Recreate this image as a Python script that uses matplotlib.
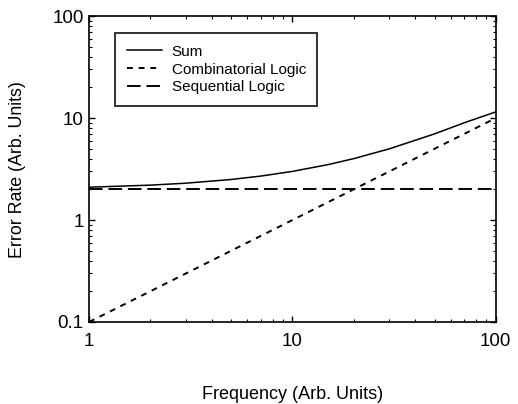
import matplotlib
matplotlib.use('Agg')
import matplotlib.pyplot as plt
from matplotlib.ticker import LogLocator, NullFormatter, FixedLocator, FixedFormatter

# data
freq_sum = [1, 2, 3, 5, 7, 10, 15, 20, 30, 50, 70, 100]
err_sum = [2.1, 2.2, 2.3, 2.5, 2.7, 3.0, 3.5, 4.0, 5.0, 7.0, 9.0, 11.5]
freq_comb = [1, 100]
err_comb = [0.1, 10]
freq_seq = [1, 100]
err_seq = [2, 2]

xticks = [1, 10, 100]
xticklabels = ['1', '10', '100']
yticks = [0.1, 1, 10, 100]
yticklabels = ['0.1', '1', '10', '100']

plt.rcParams['font.family'] = ['Liberation Sans', 'DejaVu Sans']

fig = plt.figure(figsize=(5.18, 4.04), dpi=100)
ax = fig.add_axes([0.172, 0.203, 0.785, 0.757])

ax.loglog(freq_sum, err_sum, color='black', lw=1.1, label='Sum')
ax.loglog(freq_comb, err_comb, color='black', lw=1.4, dashes=(3, 3),
          label='Combinatorial Logic')
ax.loglog(freq_seq, err_seq, color='black', lw=1.4, dashes=(7, 3),
          label='Sequential Logic')

ax.set_xlim(1, 100)
ax.set_ylim(0.1, 100)

ax.xaxis.set_major_locator(FixedLocator(xticks))
ax.xaxis.set_major_formatter(FixedFormatter(xticklabels))
ax.yaxis.set_major_locator(FixedLocator(yticks))
ax.yaxis.set_major_formatter(FixedFormatter(yticklabels))
ax.xaxis.set_minor_locator(LogLocator(base=10, subs=range(2, 10)))
ax.yaxis.set_minor_locator(LogLocator(base=10, subs=range(2, 10)))
ax.xaxis.set_minor_formatter(NullFormatter())
ax.yaxis.set_minor_formatter(NullFormatter())

ax.tick_params(which='both', direction='in', top=True, right=True,
               labelsize=13.5, color='black')
ax.tick_params(which='major', length=4, width=1)
ax.tick_params(which='minor', length=2, width=0.8)
ax.tick_params(axis='x', which='major', pad=8)
ax.tick_params(axis='y', which='major', pad=4)
for s in ax.spines.values():
    s.set_linewidth(1.2)

ax.set_xlabel('Frequency (Arb. Units)', fontsize=13, labelpad=26)
ax.set_ylabel('Error Rate (Arb. Units)', fontsize=12.8, labelpad=19)

leg = ax.legend(loc='upper left', bbox_to_anchor=(0.064, 0.944),
                borderaxespad=0, fontsize=11, frameon=True, fancybox=False,
                edgecolor='black', handlelength=2.3, handletextpad=0.65,
                borderpad=0.75, labelspacing=0.25)
leg.get_frame().set_linewidth(1.4)

fig.savefig('out.png', dpi=100)
